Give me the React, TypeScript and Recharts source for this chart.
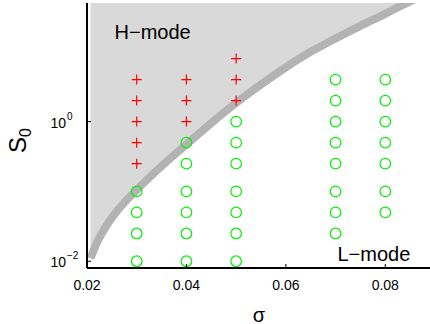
import React from 'react';
import { ComposedChart, Area, Line, Scatter, XAxis, YAxis, ReferenceDot } from 'recharts';

const FONT = '"Liberation Sans", Arial, Helvetica, sans-serif';

// H/L boundary
const boundarySigma = [0.0207, 0.022, 0.024, 0.026, 0.030, 0.035, 0.040, 0.045, 0.050, 0.055, 0.060, 0.065, 0.070, 0.075, 0.080, 0.083, 0.086];
const boundaryS0 = [0.011, 0.0185, 0.033, 0.052, 0.105, 0.23, 0.47, 0.95, 1.85, 3.4, 6.0, 10, 15.5, 23.5, 35, 45, 57];

// H-mode runs (red +)
const hModeSigma = [0.03, 0.03, 0.03, 0.03, 0.03, 0.04, 0.04, 0.04, 0.05, 0.05, 0.05];
const hModeS0 = [4, 2, 1, 0.5, 0.25, 4, 2, 1, 8, 4, 2];

// L-mode runs (green o)
const lModeSigma = [
  0.03, 0.03, 0.03, 0.03,
  0.04, 0.04, 0.04, 0.04, 0.04, 0.04,
  0.05, 0.05, 0.05, 0.05, 0.05, 0.05, 0.05,
  0.07, 0.07, 0.07, 0.07, 0.07, 0.07, 0.07, 0.07,
  0.08, 0.08, 0.08, 0.08, 0.08, 0.08, 0.08,
];
const lModeS0 = [
  0.1, 0.05, 0.025, 0.01,
  0.5, 0.25, 0.1, 0.05, 0.025, 0.01,
  1, 0.5, 0.25, 0.1, 0.05, 0.025, 0.01,
  4, 2, 1, 0.5, 0.25, 0.1, 0.05, 0.025,
  4, 2, 1, 0.5, 0.25, 0.1, 0.05,
];

const xDomain = [0.02, 0.09];
const yDomain = [0.008, 50];
const xTicks = [0.02, 0.04, 0.06, 0.08];
const xTickLabels = ['0.02', '0.04', '0.06', '0.08'];
const topTicks = [0.04, 0.06, 0.08];
const yTicks = [0.01, 1];
const yTickExponents = ['\u22122', '0'];

const annotations = [
  { sigma: 0.0332, s0: 19, text: 'H\u2212mode' },
  { sigma: 0.0777, s0: 0.0128, text: 'L\u2212mode' },
];

const boundary = boundarySigma.map((sigma, i) => ({ sigma, s0: boundaryS0[i] }));
const hMode = hModeSigma.map((sigma, i) => ({ sigma, s0: hModeS0[i] }));
const lMode = lModeSigma.map((sigma, i) => ({ sigma, s0: lModeS0[i] }));

const BottomTick = (props: any) => {
  const { x, y, payload } = props;
  const i = xTicks.indexOf(payload.value);
  return (
    <g>
      <line x1={x} x2={x} y1={y} y2={y - 4} stroke="#000" strokeWidth={1} />
      <text x={x} y={y + 22} textAnchor="middle" fontSize={14} fontFamily={FONT} fill="#000">
        {xTickLabels[i]}
      </text>
    </g>
  );
};

const TopTick = (props: any) => {
  const { x, y } = props;
  return <line x1={x} x2={x} y1={y} y2={y + 4} stroke="#000" strokeWidth={1} />;
};

const LeftTick = (props: any) => {
  const { x, y, payload } = props;
  const i = yTicks.indexOf(payload.value);
  return (
    <g>
      <line x1={x} x2={x + 4} y1={y} y2={y} stroke="#000" strokeWidth={1} />
      <text x={x - 21} y={y + 6} textAnchor="end" fontSize={14} fontFamily={FONT} fill="#000">10</text>
      <text x={x - 20} y={y - 2} textAnchor="start" fontSize={10} fontFamily={FONT} fill="#000">
        {yTickExponents[i]}
      </text>
    </g>
  );
};

const PlusShape = (props: any) => {
  const { cx, cy } = props;
  return (
    <path
      d={`M${cx - 5},${cy}H${cx + 5}M${cx},${cy - 5}V${cy + 5}`}
      stroke="#ff0000"
      strokeWidth={1.2}
      fill="none"
    />
  );
};

const CircleShape = (props: any) => {
  const { cx, cy } = props;
  return <circle cx={cx} cy={cy} r={5.3} fill="none" stroke="#00ee00" strokeWidth={1.2} />;
};

const YLabel = (props: any) => {
  const vb = props.viewBox;
  const cx = vb.x + 26;
  const cy = vb.y + vb.height / 2 + 5;
  return (
    <text transform={`rotate(-90, ${cx}, ${cy})`} x={cx} y={cy} textAnchor="middle" fontFamily={FONT} fill="#000">
      <tspan fontSize={24}>S</tspan>
      <tspan fontSize={16} dy={5}>0</tspan>
    </text>
  );
};

const XLabel = (props: any) => {
  const vb = props.viewBox;
  return (
    <text x={vb.x + vb.width / 2 - 2} y={vb.y + 53.5} textAnchor="middle" fontSize={20} fontFamily={FONT} fill="#000">
      {'\u03c3'}
    </text>
  );
};

export default function App() {
  return (
    <div style={{ position: 'absolute', left: 0, top: 0, width: 430, height: 324, overflow: 'hidden', background: '#fff' }}>
      <ComposedChart width={440} height={324} data={boundary} margin={{ top: 3, right: 5, bottom: 0, left: 0 }}>
        <XAxis
          xAxisId="b"
          dataKey="sigma"
          type="number"
          domain={xDomain}
          allowDataOverflow
          ticks={xTicks}
          tickSize={0}
          tickMargin={0}
          tickLine={false}
          tick={<BottomTick />}
          axisLine={{ stroke: '#000', strokeWidth: 2 }}
          height={56}
          label={<XLabel />}
        />
        <XAxis
          xAxisId="t"
          orientation="top"
          dataKey="sigma"
          type="number"
          domain={xDomain}
          allowDataOverflow
          ticks={topTicks}
          tickSize={0}
          tickMargin={0}
          tickLine={false}
          tick={<TopTick />}
          axisLine={{ stroke: '#000', strokeWidth: 2 }}
          height={0}
        />
        <YAxis
          dataKey="s0"
          scale="log"
          type="number"
          domain={yDomain}
          allowDataOverflow
          ticks={yTicks}
          tickSize={0}
          tickMargin={0}
          tickLine={false}
          tick={<LeftTick />}
          axisLine={{ stroke: '#000', strokeWidth: 2 }}
          width={87}
          label={<YLabel />}
        />
        <Area
          xAxisId="b"
          type="monotone"
          dataKey="s0"
          baseValue="dataMax"
          stroke="none"
          fill="#d9d9d9"
          fillOpacity={1}
          isAnimationActive={false}
        />
        <Line
          xAxisId="b"
          type="monotone"
          dataKey="s0"
          stroke="#b3b3b3"
          strokeWidth={8}
          dot={false}
          isAnimationActive={false}
        />
        <Scatter xAxisId="b" data={hMode} dataKey="s0" shape={<PlusShape />} isAnimationActive={false} />
        <Scatter xAxisId="b" data={lMode} dataKey="s0" shape={<CircleShape />} isAnimationActive={false} />
        {annotations.map((a) => (
          <ReferenceDot
            key={a.text}
            xAxisId="b"
            x={a.sigma}
            y={a.s0}
            r={0}
            fill="none"
            stroke="none"
            label={{ value: a.text, position: 'center', fontSize: 20, fontFamily: FONT, fill: '#000' }}
          />
        ))}
      </ComposedChart>
    </div>
  );
}
